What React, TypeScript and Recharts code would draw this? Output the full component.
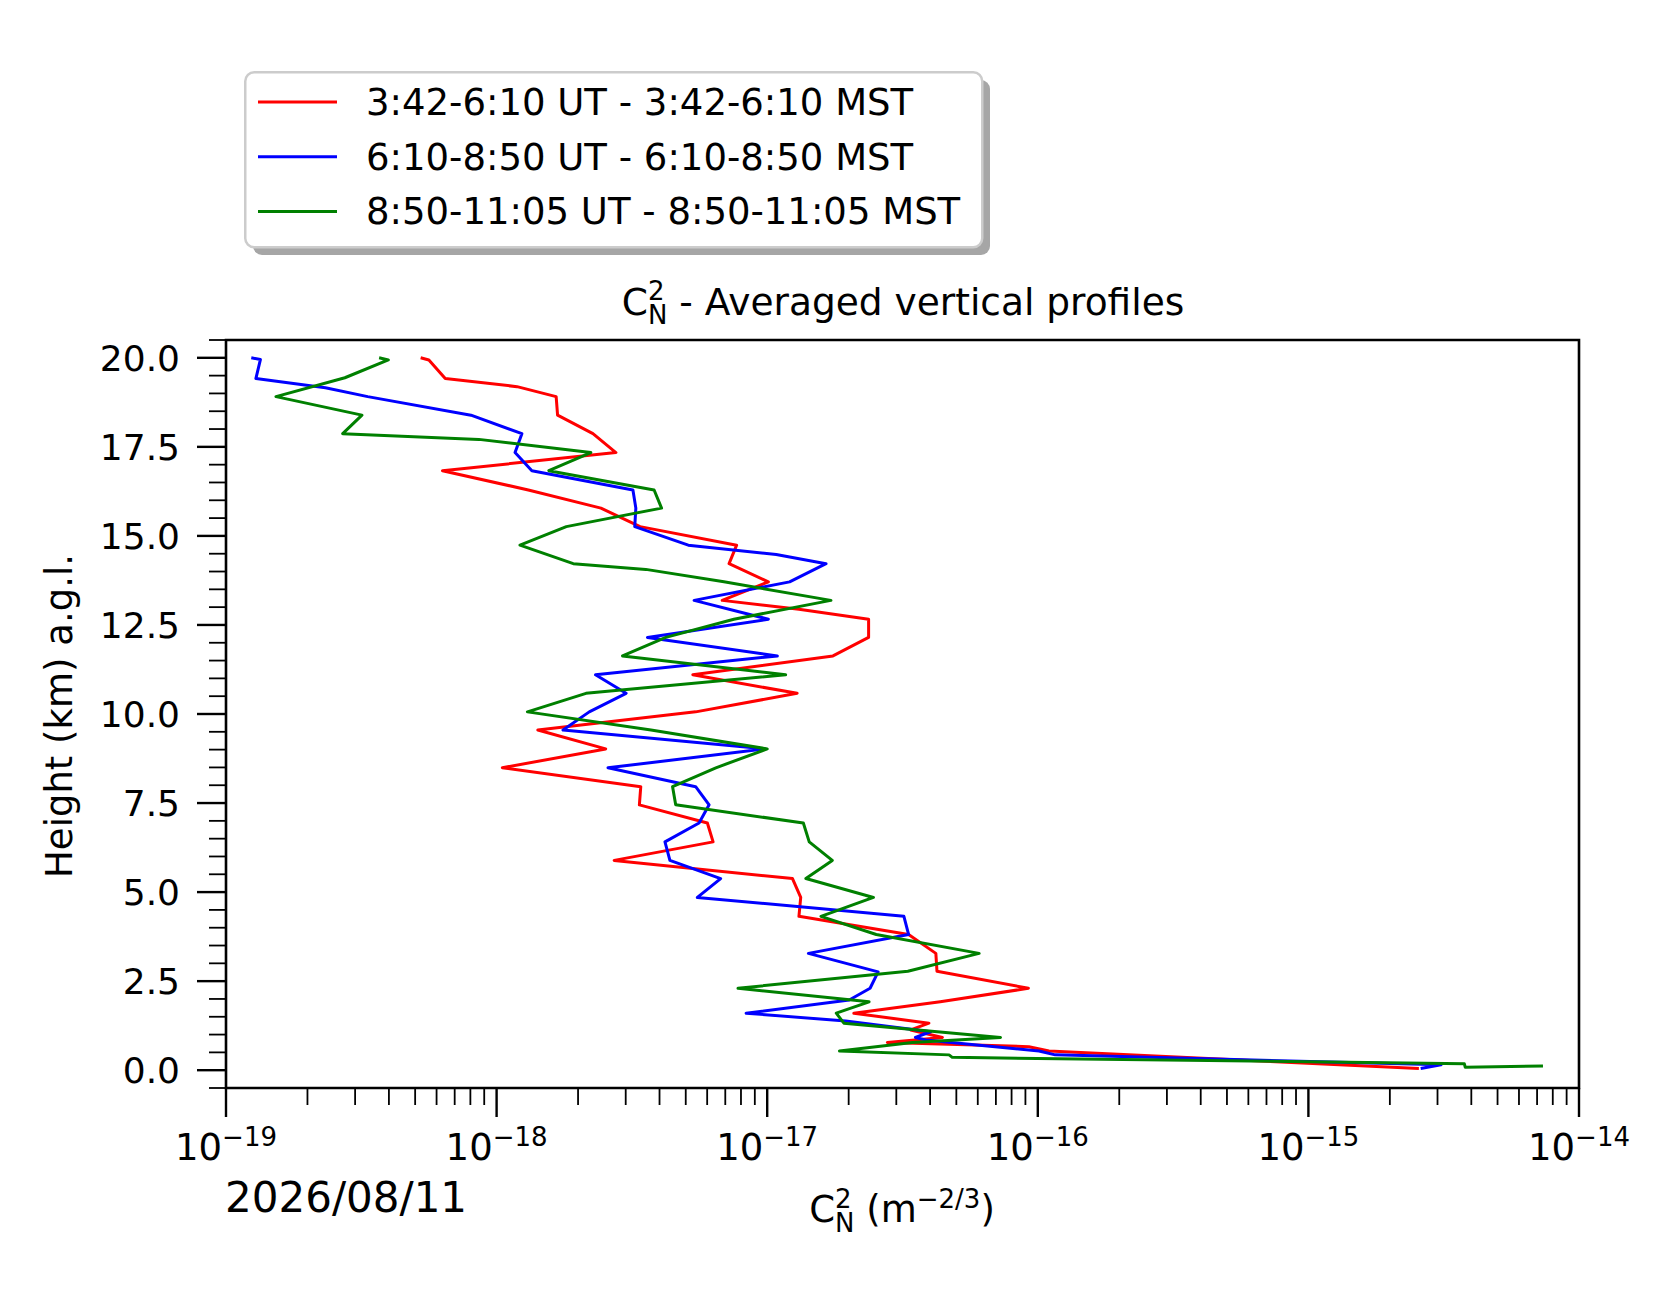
import React from 'react';
import { ScatterChart, Scatter, XAxis, YAxis, ReferenceArea, Legend } from 'recharts';

const FONT = '"DejaVu Sans", sans-serif';

// heights (km a.g.l.) and Cn2 (m^-2/3)
const HEIGHTS_RED = [
  20.0, 19.94, 19.42, 19.19, 18.91, 18.39, 17.87, 17.34, 16.83, 16.29, 15.78, 15.26, 14.74, 14.22,
  13.71, 13.19, 12.94, 12.66, 12.15, 11.63, 11.1, 10.58, 10.06, 9.55, 9.02, 8.49, 7.96, 7.45, 6.94,
  6.41, 5.89, 5.38, 4.85, 4.32, 3.81, 3.28, 2.78, 2.3, 1.92, 1.6, 1.32, 1.13, 0.92, 0.78, 0.66, 0.54, 0.05,
];
const CN2_RED = [
  5.24e-19, 5.62e-19, 6.46e-19, 1.19e-18, 1.66e-18, 1.68e-18, 2.27e-18, 2.76e-18, 6.31e-19, 1.31e-18,
  2.43e-18, 3.39e-18, 7.71e-18, 7.23e-18, 1.01e-17, 6.82e-18, 1.31e-17, 2.37e-17, 2.37e-17, 1.75e-17,
  5.31e-18, 1.29e-17, 5.44e-18, 1.42e-18, 2.53e-18, 1.05e-18, 3.41e-18, 3.37e-18, 6.01e-18, 6.31e-18,
  2.72e-18, 1.24e-17, 1.33e-17, 1.31e-17, 3.33e-17, 4.2e-17, 4.24e-17, 9.23e-17, 4.36e-17, 2.09e-17,
  3.96e-17, 3.39e-17, 4.44e-17, 2.78e-17, 9.27e-17, 1.1e-16, 2.56e-15,
];

const HEIGHTS_BLUE = [
  20.0, 19.95, 19.42, 19.16, 18.91, 18.39, 17.87, 17.34, 16.83, 16.29, 15.78, 15.26, 14.74, 14.48,
  14.22, 13.71, 13.19, 12.66, 12.15, 11.63, 11.1, 10.58, 10.06, 9.55, 9.02, 8.49, 7.96, 7.45, 6.94,
  6.41, 5.89, 5.38, 4.85, 4.32, 3.81, 3.28, 2.76, 2.3, 1.97, 1.6, 1.38, 1.08, 0.92, 0.85, 0.54, 0.43,
  0.15, 0.05,
];
const CN2_BLUE = [
  1.24e-19, 1.34e-19, 1.29e-19, 2.33e-19, 3.34e-19, 8.04e-19, 1.24e-18, 1.17e-18, 1.35e-18, 3.19e-18,
  3.27e-18, 3.24e-18, 5.11e-18, 1.08e-17, 1.65e-17, 1.21e-17, 5.37e-18, 1.01e-17, 3.61e-18, 1.09e-17,
  2.32e-18, 3.01e-18, 2.2e-18, 1.76e-18, 9.86e-18, 2.58e-18, 5.44e-18, 6.1e-18, 5.6e-18, 4.19e-18,
  4.37e-18, 6.73e-18, 5.52e-18, 3.2e-17, 3.33e-17, 1.42e-17, 2.57e-17, 2.4e-17, 2.01e-17, 8.36e-18,
  1.95e-17, 4.02e-17, 3.53e-17, 3.85e-17, 1.01e-16, 1.16e-16, 3.09e-15, 2.6e-15,
];

const HEIGHTS_GREEN = [
  20.0, 19.94, 19.44, 18.91, 18.39, 17.87, 17.71, 17.34, 16.83, 16.29, 15.78, 15.26, 14.74, 14.22,
  14.06, 13.71, 13.19, 12.66, 12.15, 11.63, 11.1, 10.58, 10.06, 9.55, 9.02, 8.49, 7.96, 7.45, 6.94,
  6.41, 5.89, 5.38, 4.85, 4.32, 3.81, 3.28, 2.78, 2.3, 1.92, 1.6, 1.32, 0.92, 0.78, 0.54, 0.43, 0.36,
  0.18, 0.08, 0.12,
];
const CN2_GREEN = [
  3.68e-19, 3.98e-19, 2.75e-19, 1.53e-19, 3.18e-19, 2.7e-19, 8.6e-19, 2.23e-18, 1.56e-18, 3.82e-18,
  4.07e-18, 1.81e-18, 1.22e-18, 1.92e-18, 3.56e-18, 6.92e-18, 1.72e-17, 7.53e-18, 4.22e-18, 2.92e-18,
  1.17e-17, 2.14e-18, 1.3e-18, 3.72e-18, 1.0e-17, 6.46e-18, 4.47e-18, 4.59e-18, 1.36e-17, 1.43e-17,
  1.74e-17, 1.39e-17, 2.47e-17, 1.58e-17, 2.53e-17, 6.07e-17, 3.31e-17, 7.8e-18, 2.38e-17, 1.8e-17,
  1.92e-17, 7.28e-17, 3.44e-17, 1.85e-17, 4.7e-17, 4.83e-17, 3.77e-15, 3.8e-15, 7.36e-15,
];

const X_MAJOR = [1e-19, 1e-18, 1e-17, 1e-16, 1e-15, 1e-14];
const Y_MAJOR = [0, 2.5, 5, 7.5, 10, 12.5, 15, 17.5, 20];

const SERIES = [
  { name: '3:42-6:10 UT - 3:42-6:10 MST', color: '#ff0000', heights: HEIGHTS_RED, values: CN2_RED },
  { name: '6:10-8:50 UT - 6:10-8:50 MST', color: '#0000ff', heights: HEIGHTS_BLUE, values: CN2_BLUE },
  { name: '8:50-11:05 UT - 8:50-11:05 MST', color: '#008000', heights: HEIGHTS_GREEN, values: CN2_GREEN },
];

const LINE_W = 3;

// log minor ticks 2..9 inside every decade
const xTicks: number[] = [];
X_MAJOR.forEach((d, i) => {
  xTicks.push(d);
  if (i < X_MAJOR.length - 1) for (let m = 2; m < 10; m++) xTicks.push(m * d);
});
const yTicks: number[] = [];
for (let v = -0.5; v <= 20.5 + 1e-9; v += 0.5) yTicks.push(Math.round(v * 10) / 10);

const isMajorX = (v: number) => X_MAJOR.some((m) => Math.abs(v / m - 1) < 1e-6);
const isMajorY = (v: number) => Y_MAJOR.some((m) => Math.abs(v - m) < 1e-6);

const XTick = (props: any) => {
  const { x, y, payload } = props;
  const major = isMajorX(payload.value);
  const exp = Math.round(Math.log10(payload.value));
  return (
    <g>
      <line x1={x} x2={x} y1={y} y2={y + (major ? 29 : 17)} stroke="#000" strokeWidth={major ? 2.4 : 1.8} />
      {major && (
        <text x={x} y={y + 72} textAnchor="middle" fontSize={37} fontFamily={FONT} fill="#000">
          10<tspan fontSize={26} dy={-14}>{'\u2212' + Math.abs(exp)}</tspan>
        </text>
      )}
    </g>
  );
};

const YTick = (props: any) => {
  const { x, y, payload } = props;
  const major = isMajorY(payload.value);
  return (
    <g>
      <line x1={x} x2={x - (major ? 29 : 17)} y1={y} y2={y} stroke="#000" strokeWidth={major ? 2.4 : 1.8} />
      {major && (
        <text x={x - 46} y={y + 13} textAnchor="end" fontSize={36} fontFamily={FONT} fill="#000">
          {payload.value.toFixed(1)}
        </text>
      )}
    </g>
  );
};

const LegendBox = () => (
  <svg width={760} height={195} style={{ display: 'block' }}>
    <rect x={9} y={9} width={737} height={175} rx={9} fill="#a6a6a6" />
    <rect x={1.25} y={1.25} width={737} height={175} rx={9} fill="#fff" stroke="#cccccc" strokeWidth={2.5} />
    {SERIES.map((s, i) => (
      <g key={s.name}>
        <line x1={14} x2={93} y1={31 + i * 54.7} y2={31 + i * 54.7} stroke={s.color} strokeWidth={LINE_W} />
        <text x={122} y={44 + i * 54.7} fontSize={37} fontFamily={FONT} fill="#000">{s.name}</text>
      </g>
    ))}
  </svg>
);

const App: React.FC = () => {
  const seriesData = SERIES.map((s) => s.heights.map((h, i) => ({ x: s.values[i], y: h })));

  return (
    <div style={{ position: 'relative', width: 1660, height: 1287, fontFamily: FONT }}>
      <ScatterChart width={1660} height={1287} margin={{ top: 332, right: 89, bottom: 147, left: 118 }}>
        <XAxis
          dataKey="x"
          type="number"
          scale="log"
          domain={[1e-19, 1e-14]}
          allowDataOverflow
          ticks={xTicks}
          interval={0}
          tick={<XTick />}
          tickSize={0}
          tickMargin={0}
          tickLine={false}
          axisLine={false}
          height={60}
        />
        <YAxis
          dataKey="y"
          type="number"
          domain={[-0.5, 20.5]}
          allowDataOverflow
          ticks={yTicks}
          interval={0}
          tick={<YTick />}
          tickSize={0}
          tickMargin={0}
          tickLine={false}
          axisLine={false}
          width={100}
        />
        {SERIES.map((s, i) => (
          <Scatter
            key={s.name}
            name={s.name}
            data={seriesData[i]}
            fill={s.color}
            stroke={s.color}
            strokeWidth={LINE_W}
            line={{ stroke: s.color, strokeWidth: LINE_W, strokeLinejoin: 'round' }}
            shape={() => <g />}
            isAnimationActive={false}
          />
        ))}
        <ReferenceArea x1={1e-19} x2={1e-14} y1={-0.5} y2={20.5} fill="none" stroke="#000" strokeWidth={2.6} />
        <Legend
          layout="vertical"
          align="center"
          verticalAlign="middle"
          wrapperStyle={{ left: 236, top: 63, width: 760, height: 195 }}
          content={() => <LegendBox />}
        />
      </ScatterChart>
      <svg
        width={1660}
        height={1287}
        style={{ position: 'absolute', left: 0, top: 0, pointerEvents: 'none' }}
      >
        <text x={895} y={307} textAnchor="middle" fontSize={37.5} fontFamily={FONT} fill="#000" style={{ whiteSpace: 'pre' }}>
          C<tspan fontSize={26} dy={9}>N</tspan>
          <tspan fontSize={26} dx={-19.5} dy={-24}>2</tspan>
          <tspan dx={3} dy={15}>{' - Averaged vertical profiles'}</tspan>
        </text>
        <text x={894} y={1214} textAnchor="middle" fontSize={37} fontFamily={FONT} fill="#000" style={{ whiteSpace: 'pre' }}>
          C<tspan fontSize={26} dy={10}>N</tspan>
          <tspan fontSize={26} dx={-19.5} dy={-24}>2</tspan>
          <tspan dx={3} dy={14}>{' (m'}</tspan>
          <tspan fontSize={26} dy={-14}>{'\u22122/3'}</tspan>
          <tspan dy={14}>)</tspan>
        </text>
        <text x={217} y={1204} fontSize={42} fontFamily={FONT} fill="#000">2026/08/11</text>
        <text x={64} y={708} transform="rotate(-90, 64, 708)" textAnchor="middle" fontSize={37} fontFamily={FONT} fill="#000">
          Height (km) a.g.l.
        </text>
      </svg>
    </div>
  );
};

export default App;
